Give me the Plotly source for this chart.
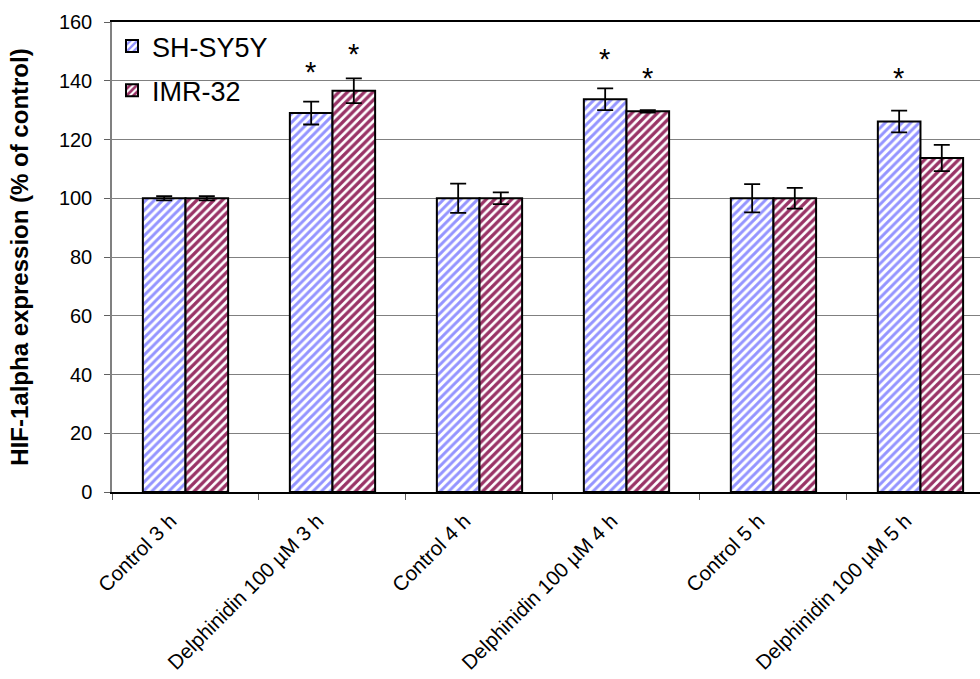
import plotly.graph_objects as go

# Treatment groups on the x axis
categories = ["Control 3 h", "Delphinidin 100 µM 3 h", "Control 4 h",
              "Delphinidin 100 µM 4 h", "Control 5 h", "Delphinidin 100 µM 5 h"]

# HIF-1alpha expression (% of control), mean and error
sh_values = [100, 129, 100, 133.7, 100, 126.1]
sh_errors = [0.7, 3.9, 5.0, 3.7, 4.8, 3.7]
imr_values = [100, 136.6, 100, 129.6, 100, 113.7]
imr_errors = [0.7, 4.2, 2.0, 0.4, 3.5, 4.5]

# Significance markers: (category, series, y position)
stars = [
    ("Delphinidin 100 µM 3 h", "SH-SY5Y", 143.0),
    ("Delphinidin 100 µM 3 h", "IMR-32", 149.0),
    ("Delphinidin 100 µM 4 h", "SH-SY5Y", 147.5),
    ("Delphinidin 100 µM 4 h", "IMR-32", 141.0),
    ("Delphinidin 100 µM 5 h", "SH-SY5Y", 141.0),
]

FONT = "Liberation Sans, Arial, sans-serif"


def bar_trace(name, values, errors, color, solidity):
    return go.Bar(
        name=name,
        legendgroup=name,
        x=categories,
        y=values,
        error_y=dict(type="data", array=errors, color="black",
                     thickness=1.8, width=8),
        marker=dict(
            color="white",
            line=dict(color="black", width=2),
            pattern=dict(shape="/", fgcolor=color, bgcolor="white",
                         size=6, solidity=solidity, fillmode="replace"),
        ),
    )


fig = go.Figure()
fig.add_trace(bar_trace("SH-SY5Y", sh_values, sh_errors, "#9494ff", 0.48))
fig.add_trace(bar_trace("IMR-32", imr_values, imr_errors, "#993366", 0.55))

# Asterisks above the bars, shifted to each series' slot in the group
shift = {"SH-SY5Y": -21.5, "IMR-32": 21.5}
for cat, series, ypos in stars:
    fig.add_annotation(x=cat, y=ypos, text="*", showarrow=False,
                       xshift=shift[series], yanchor="middle",
                       font=dict(family=FONT, size=29, color="black"))

fig.update_layout(
    width=980, height=679,
    margin=dict(l=112, r=0, t=22, b=187),
    paper_bgcolor="white", plot_bgcolor="white",
    barmode="group", bargap=0.42, bargroupgap=0,
    font=dict(family=FONT, color="black"),
    showlegend=True,
    legend=dict(x=0.0, y=1.0, xanchor="left", yanchor="top",
                font=dict(family=FONT, size=27, color="black"),
                bgcolor="rgba(0,0,0,0)", traceorder="grouped",
                tracegroupgap=6, itemwidth=30),
)

fig.update_xaxes(
    type="category",
    range=[-0.5, 5.405],
    automargin=False,
    tickangle=-45,
    tickfont=dict(family=FONT, size=20.5, color="black"),
    ticklabelshift=-15,
    ticklabelstandoff=7,
    showline=True, linecolor="black", linewidth=1.5, mirror=True,
    ticks="outside", tickson="boundaries", ticklen=6, tickcolor="#606060",
    showgrid=False,
)

fig.update_yaxes(
    range=[0, 160],
    dtick=20,
    automargin=False,
    tickfont=dict(family=FONT, size=20, color="black"),
    ticklabelstandoff=8,
    showline=True, linecolor="#808080", linewidth=1.5,
    ticks="outside", ticklen=6, tickcolor="#606060",
    showgrid=True, gridcolor="#808080", gridwidth=1,
    zeroline=False,
    title=dict(text="<b>HIF-1alpha expression (% of control)</b>",
               font=dict(family=FONT, size=24, color="black"), standoff=23),
)

fig.write_html("out.html")
